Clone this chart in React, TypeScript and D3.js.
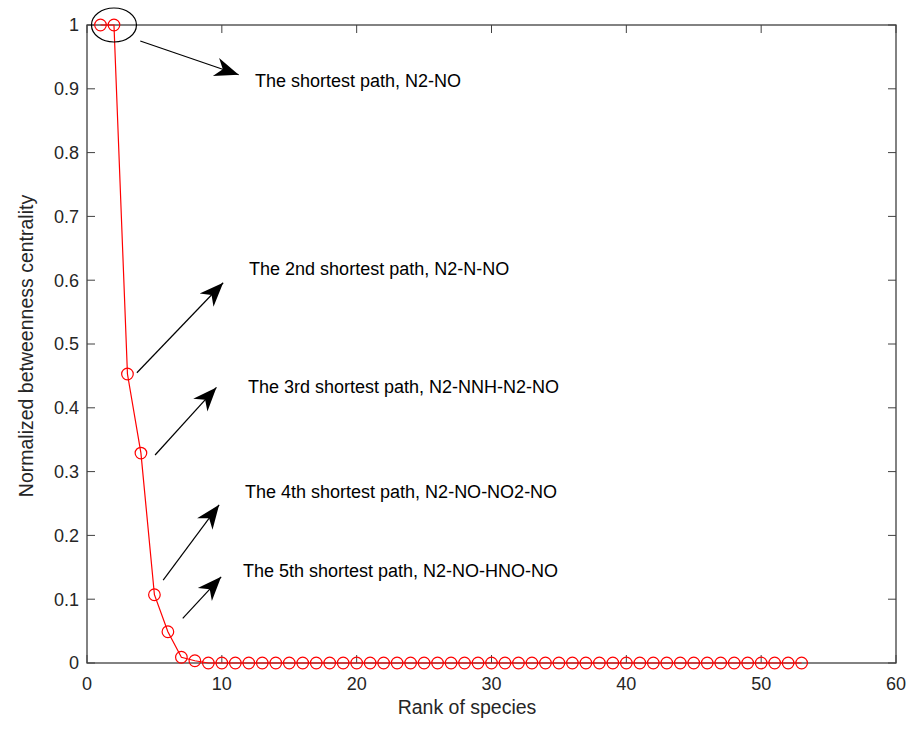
import React from "react";
import * as d3 from "d3";

// Normalized betweenness centrality by species rank
const ranks: number[] = Array.from({ length: 53 }, (_, i) => i + 1);
const centrality: number[] = [
  1, 1, 0.453, 0.329, 0.107, 0.049, 0.009, 0.0035,
  0, 0, 0, 0, 0, 0, 0, 0, 0, 0, 0, 0, 0, 0, 0, 0, 0, 0, 0, 0, 0, 0,
  0, 0, 0, 0, 0, 0, 0, 0, 0, 0, 0, 0, 0, 0, 0, 0, 0, 0, 0, 0, 0, 0, 0,
];
const xTicks: number[] = [0, 10, 20, 30, 40, 50, 60];
const yTicks: number[] = [0, 0.1, 0.2, 0.3, 0.4, 0.5, 0.6, 0.7, 0.8, 0.9, 1];

// Annotations: arrow start/end in data units, label anchor in data units
const notes = [
  { text: "The shortest path, N2-NO", from: [3.95, 0.975], to: [11.25, 0.922], at: [12.46, 0.903] },
  { text: "The 2nd shortest path, N2-N-NO", from: [3.7, 0.455], to: [10.1, 0.596], at: [12.02, 0.608] },
  { text: "The 3rd shortest path, N2-NNH-N2-NO", from: [5.05, 0.326], to: [9.6, 0.432], at: [11.94, 0.423] },
  { text: "The 4th shortest path, N2-NO-NO2-NO", from: [5.65, 0.13], to: [9.8, 0.248], at: [11.72, 0.259] },
  { text: "The 5th shortest path, N2-NO-HNO-NO", from: [7.1, 0.07], to: [9.95, 0.135], at: [11.57, 0.135] },
];

const W = 910;
const H = 729;
const m = { left: 87, right: 14, top: 25, bottom: 66 };

export default function App() {
  const x = d3.scaleLinear().domain([0, 60]).range([m.left, W - m.right]);
  const y = d3.scaleLinear().domain([0, 1]).range([H - m.bottom, m.top]);
  const line = d3
    .line<number>()
    .x((_, i) => x(ranks[i]))
    .y((d) => y(d));
  const axisColor = "#404040";
  const textColor = "#262626";
  const font = "Arial, 'Liberation Sans', sans-serif";
  const tick = 8;
  const x0 = x(0), x1 = x(60), y0 = y(0), y1 = y(1);

  return (
    <svg
      width={W}
      height={H}
      style={{ position: "absolute", left: 0, top: 0, background: "#fff" }}
      fontFamily={font}
    >
      <defs>
        <marker id="headBig" viewBox="0 0 10 10" refX="10" refY="5" markerWidth="24" markerHeight="24" markerUnits="userSpaceOnUse" orient="auto">
          <path d="M0,1 L10,5 L0,9 L3,5 Z" fill="#000" />
        </marker>
      </defs>

      {/* box */}
      <rect x={x0} y={y1} width={x1 - x0} height={y0 - y1} fill="none" stroke={axisColor} strokeWidth={1.3} />

      {/* x ticks */}
      {xTicks.map((t) => (
        <g key={`x${t}`}>
          <line x1={x(t)} x2={x(t)} y1={y0} y2={y0 - tick} stroke={axisColor} />
          <line x1={x(t)} x2={x(t)} y1={y1} y2={y1 + tick} stroke={axisColor} />
          <text x={x(t)} y={y0 + 27} textAnchor="middle" fontSize={18} fill={textColor}>
            {t}
          </text>
        </g>
      ))}
      {/* y ticks */}
      {yTicks.map((t) => (
        <g key={`y${t}`}>
          <line x1={x0} x2={x0 + tick} y1={y(t)} y2={y(t)} stroke={axisColor} />
          <line x1={x1} x2={x1 - tick} y1={y(t)} y2={y(t)} stroke={axisColor} />
          <text x={x0 - 8} y={y(t)} dy="0.36em" textAnchor="end" fontSize={18} fill={textColor}>
            {d3.format("~g")(t)}
          </text>
        </g>
      ))}

      <text x={467} y={714} textAnchor="middle" fontSize={19.5} fill={textColor}>
        Rank of species
      </text>
      <text
        transform={`translate(33,${(y0 + y1) / 2 + 2}) rotate(-90)`}
        textAnchor="middle"
        fontSize={19.5}
        fill={textColor}
      >
        Normalized betweenness centrality
      </text>

      {/* series */}
      <path d={line(centrality) ?? ""} fill="none" stroke="#ff0000" strokeWidth={1.2} />
      {centrality.map((v, i) => (
        <circle key={i} cx={x(ranks[i])} cy={y(v)} r={5.8} fill="none" stroke="#ff0000" strokeWidth={1.2} />
      ))}

      {/* highlight of the two top-ranked species */}
      <ellipse cx={x(2)} cy={y(1)} rx={22.5} ry={17} fill="none" stroke="#000" strokeWidth={1.2} />

      {/* annotations */}
      {notes.map((n, i) => (
        <g key={`n${i}`}>
          <line
            x1={x(n.from[0])}
            y1={y(n.from[1])}
            x2={x(n.to[0])}
            y2={y(n.to[1])}
            stroke="#000"
            strokeWidth={1.2}
            markerEnd="url(#headBig)"
          />
          <text x={x(n.at[0])} y={y(n.at[1])} fontSize={18} fill="#000">
            {n.text}
          </text>
        </g>
      ))}
    </svg>
  );
}
